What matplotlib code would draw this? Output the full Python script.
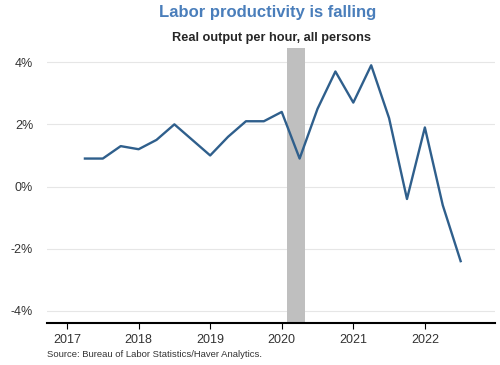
import matplotlib
matplotlib.use('Agg')
import matplotlib.pyplot as plt

plt.rcParams['font.family'] = ['Liberation Sans', 'DejaVu Sans']

# quarterly productivity, % change yoy
quarters = [2017.25, 2017.5, 2017.75, 2018.0, 2018.25, 2018.5, 2018.75,
            2019.0, 2019.25, 2019.5, 2019.75, 2020.0, 2020.25, 2020.5,
            2020.75, 2021.0, 2021.25, 2021.5, 2021.75, 2022.0, 2022.25, 2022.5]
productivity = [0.9, 0.9, 1.3, 1.2, 1.5, 2.0, 1.5,
                1.0, 1.6, 2.1, 2.1, 2.4, 0.9, 2.5,
                3.7, 2.7, 3.9, 2.2, -0.4, 1.9, -0.6, -2.4]
recession = (2020.08, 2020.33)
years = [2017, 2018, 2019, 2020, 2021, 2022]
yticks = [4, 2, 0, -2, -4]

fig = plt.figure(figsize=(5, 3.65), dpi=100)
ax = fig.add_axes([0.094, 0.115, 0.896, 0.753])

ax.axvspan(recession[0], recession[1], color='#bfbfbf', lw=0, zorder=1)
ax.plot(quarters, productivity, color='#2f5f8c', lw=1.7, zorder=3)

ax.set_xlim(2016.72, 2022.98)
ax.set_ylim(-4.39, 4.45)
ax.set_yticks(yticks)
ax.set_yticklabels([f'{v}%' for v in yticks])
ax.set_xticks(years)
ax.set_xticklabels([str(y) for y in years])
ax.grid(axis='y', color='#e6e6e6', lw=0.8, zorder=0)
ax.set_axisbelow(True)

for s in ['top', 'right', 'left']:
    ax.spines[s].set_visible(False)
ax.spines['bottom'].set_color('black')
ax.spines['bottom'].set_linewidth(1.5)
ax.tick_params(axis='y', length=0, pad=10, labelsize=9, labelcolor='#333333')
ax.tick_params(axis='x', length=4, width=0.8, color='black', pad=4,
               labelsize=9, labelcolor='#333333')

fig.text(0.536, 0.966, 'Labor productivity is falling', ha='center', va='center',
         fontsize=12, fontweight='bold', color='#4a7ebb')
fig.text(0.542, 0.895, 'Real output per hour, all persons', ha='center', va='center',
         fontsize=9.2, fontweight='bold', color='#262626')
fig.text(0.094, 0.03, 'Source: Bureau of Labor Statistics/Haver Analytics.',
         ha='left', va='center', fontsize=6.8, color='#333333')

fig.savefig('out.png', dpi=100)
